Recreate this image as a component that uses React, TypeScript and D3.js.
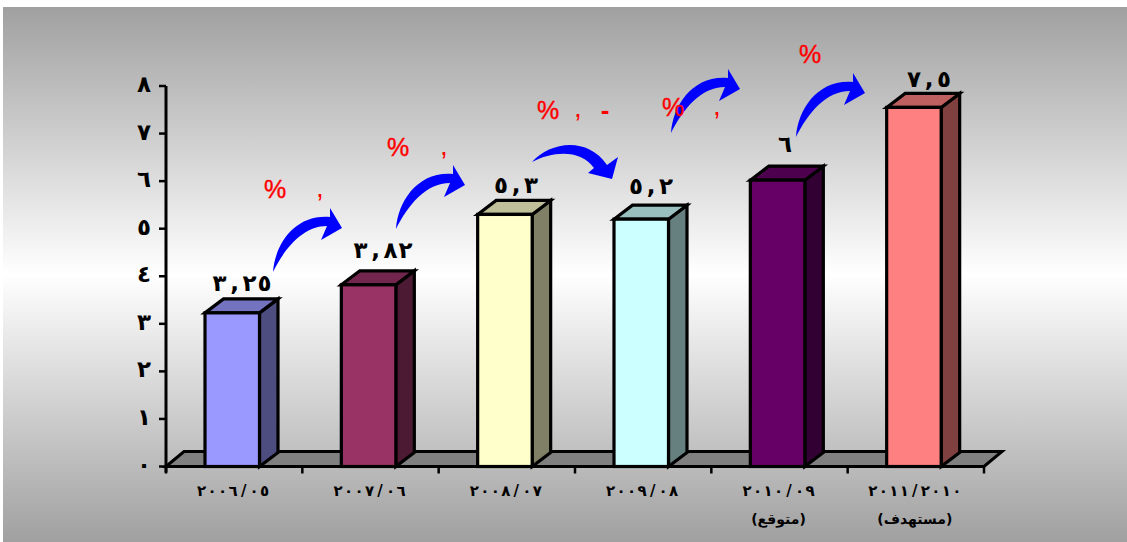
import React from "react";
import * as d3 from "d3";

const W = 1127;
const H = 542;
const categories = ["٢٠٠٦/٠٥", "٢٠٠٧/٠٦", "٢٠٠٨/٠٧", "٢٠٠٩/٠٨", "٢٠١٠/٠٩", "٢٠١١/٢٠١٠"];
const subLabels = ["", "", "", "", "(متوقع)", "(مستهدف)"];
const values = [3.23, 3.82, 5.3, 5.2, 6.02, 7.55];
const valueLabels = ["٣,٢٥", "٣,٨٢", "٥,٣", "٥,٢", "٦", "٧,٥"];
const frontColors = ["#9999ff", "#993366", "#ffffcc", "#ccffff", "#660066", "#ff8080"];
const yTickValues = [0, 1, 2, 3, 4, 5, 6, 7, 8];
const yTickLabels = ["٠", "١", "٢", "٣", "٤", "٥", "٦", "٧", "٨"];

// annotations: [x, y] in pixels of the picture
const valueLabelAnchors = [[242, 291], [383, 258], [516, 193], [651, 194], [785, 152], [929, 87]];
const percentMarks = [[275, 198], [398, 156], [548, 119], [673, 116], [810, 63]];
const commaMarks = [[320, 197], [444, 155], [578, 117], [717, 115]];
const dashMarks = [[605, 119]];
const arrowTails = [[273, 272], [396, 229], [671, 133], [796, 137]];
const downArrowTail = [532, 162];

const x = d3.scaleBand<number>().domain(d3.range(6)).range([166, 984]);
const y = d3.scaleLinear().domain([0, 8]).range([466.5, 86]);
const barW = 54.5;
const barOffset = 39;
const dx = 18.5;
const dy = 14;
const digitFont = "'DejaVu Sans', sans-serif";

function shade(c: string, k: number) {
  const r = d3.rgb(c);
  return d3.rgb(r.r * k, r.g * k, r.b * k).formatHex();
}

function poly(points: number[][]) {
  return d3.line()(points as [number, number][]) + "Z";
}

// letter-spacing is ignored for Arabic-script runs, so each digit gets its own x
function spaced(label: string, center: number, pitch: number) {
  const n = Array.from(label).length;
  return d3.range(n).map((i) => (center + (i - (n - 1) / 2) * pitch).toFixed(1)).join(" ");
}

function upArrow(tx: number, ty: number) {
  const p = d3.path();
  p.moveTo(tx, ty);
  p.bezierCurveTo(tx + 2, ty - 28, tx + 22, ty - 58, tx + 57, ty - 55);
  p.lineTo(tx + 57, ty - 64);
  p.lineTo(tx + 69, ty - 44);
  p.lineTo(tx + 48, ty - 32);
  p.lineTo(tx + 54, ty - 46);
  p.bezierCurveTo(tx + 30, ty - 46, tx + 12, ty - 24, tx, ty);
  p.closePath();
  return p.toString();
}

function downArrow(tx: number, ty: number) {
  const p = d3.path();
  p.moveTo(tx, ty);
  p.bezierCurveTo(tx + 18, ty - 20, tx + 55, ty - 26, tx + 75, ty + 3);
  p.lineTo(tx + 86, ty - 5);
  p.lineTo(tx + 80, ty + 17);
  p.lineTo(tx + 56, ty + 11);
  p.lineTo(tx + 62, ty + 6);
  p.bezierCurveTo(tx + 50, ty - 12, tx + 22, ty - 12, tx, ty);
  p.closePath();
  return p.toString();
}

export default function App() {
  const y0 = y(0);
  const x0 = x.range()[0];
  const x1 = x.range()[1];
  return (
    <svg width={W} height={H} style={{ position: "absolute", left: 0, top: 0, display: "block", background: "#fff" }}>
      <defs>
        <linearGradient id="bg" x1="0" y1="0" x2="0" y2="1">
          <stop offset="0" stopColor="#a0a0a0" />
          <stop offset="0.5" stopColor="#ffffff" />
          <stop offset="1" stopColor="#a0a0a0" />
        </linearGradient>
      </defs>
      <rect x={3} y={7} width={W - 3} height={H - 7} fill="url(#bg)" />

      <path
        d={poly([[x0, y0], [x0 + 18, y0 - 15], [x1 + 18, y0 - 15], [x1, y0]])}
        fill="#808080"
        stroke="#000"
        strokeWidth={3}
      />

      {/* axes */}
      <line x1={x0} x2={x0} y1={y(8)} y2={y0 + 6} stroke="#000" strokeWidth={3} />
      {yTickValues.map((t, i) => (
        <g key={t}>
          <line x1={x0 - 7} x2={x0} y1={y(t)} y2={y(t)} stroke="#000" strokeWidth={2.5} />
          <text x={144} y={y(t) + 6} textAnchor="middle" fontFamily={digitFont} fontWeight={700} fontSize={23} fill="#000">
            {yTickLabels[i]}
          </text>
        </g>
      ))}
      {d3.range(7).map((i) => {
        const px = x0 + i * x.step();
        return <line key={i} x1={px} x2={px} y1={y0} y2={y0 + 7} stroke="#000" strokeWidth={2.5} />;
      })}

      {/* bars */}
      {values.map((v, i) => {
        const left = (x(i) as number) + barOffset;
        const right = left + barW;
        const top = y(v);
        const c = frontColors[i];
        return (
          <g key={i} stroke="#000" strokeWidth={3.2}>
            <path d={poly([[right, top], [right + dx, top - dy], [right + dx, y0 - dy], [right, y0]])} fill={shade(c, 0.5)} />
            <path d={poly([[left, top], [left + dx, top - dy], [right + dx, top - dy], [right, top]])} fill={shade(c, 0.75)} />
            <rect x={left} y={top} width={barW} height={y0 - top} fill={c} />
          </g>
        );
      })}
      <line x1={x0} x2={x1} y1={y0} y2={y0} stroke="#000" strokeWidth={3} />

      {/* value labels */}
      {valueLabels.map((l, i) => (
        <text
          key={i}
          x={spaced(l, valueLabelAnchors[i][0], 15)}
          y={valueLabelAnchors[i][1]}
          textAnchor="middle"
          fontFamily={digitFont}
          fontWeight={700}
          fontSize={23}
          fill="#000"
          direction="ltr"
        >
          {l}
        </text>
      ))}

      {/* category labels */}
      {categories.map((c, i) => {
        const cx = (x(i) as number) + x.bandwidth() / 2;
        return (
          <g key={i} fill="#000" fontFamily={digitFont} fontWeight={700} textAnchor="middle">
            <text x={spaced(c, cx - 1, 10.5)} y={496} fontSize={15} direction="ltr">{c}</text>
            {subLabels[i] && (
              <text x={cx - 1} y={524} fontSize={14} direction="rtl">{subLabels[i]}</text>
            )}
          </g>
        );
      })}

      {/* arrows */}
      {arrowTails.map(([tx, ty], i) => (
        <path key={i} d={upArrow(tx, ty)} fill="#0000ff" />
      ))}
      <path d={downArrow(downArrowTail[0], downArrowTail[1])} fill="#0000ff" />

      {/* red annotations */}
      <g fill="#ff0000" fontFamily="'Liberation Sans', sans-serif" textAnchor="middle">
        {percentMarks.map(([a, b], i) => (
          <text key={i} x={a} y={b} fontSize={25} stroke="#ff0000" strokeWidth={0.4}>%</text>
        ))}
        {commaMarks.map(([a, b], i) => (
          <text key={i} x={a} y={b} fontSize={28}>,</text>
        ))}
        {dashMarks.map(([a, b], i) => (
          <text key={i} x={a} y={b} fontSize={26} fontWeight={700}>-</text>
        ))}
      </g>
    </svg>
  );
}
